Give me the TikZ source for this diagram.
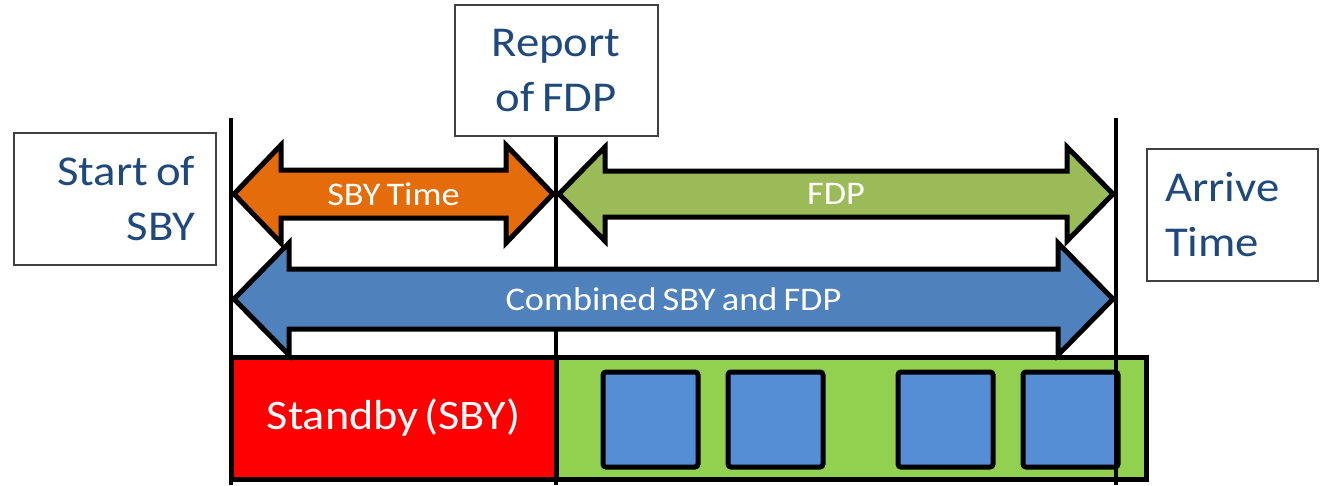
\documentclass[tikz,border=0pt]{standalone}
\usepackage{fontspec}
\setmainfont{Carlito}[FakeStretch=1.1, WordSpace={0.75,0,0}]
\definecolor{sbyorange}{RGB}{228,108,10}
\definecolor{fdpgreen}{RGB}{155,187,89}
\definecolor{combblue}{RGB}{79,129,189}
\definecolor{barred}{RGB}{255,0,0}
\definecolor{bargreen}{RGB}{146,208,80}
\definecolor{slotblue}{RGB}{85,142,213}
\definecolor{labelblue}{RGB}{31,73,125}
% double-headed block arrow: fill, x1, x2, y centre, shaft half height, head half height, head length
\newcommand\twoheaded[7]{%
  \filldraw[blockarrow, fill=#1]
    (#2,#4) -- (#2+#7,#4-#6) -- (#2+#7,#4-#5) -- (#3-#7,#4-#5) -- (#3-#7,#4-#6)
    -- (#3,#4) -- (#3-#7,#4+#6) -- (#3-#7,#4+#5) -- (#2+#7,#4+#5) -- (#2+#7,#4+#6) -- cycle;}
\begin{document}
\begin{tikzpicture}[x=1pt,y=-1pt,
  blockarrow/.style={draw=black, line width=5pt, line join=miter, miter limit=10},
  arrowtext/.style={text=white, font=\fontsize{33pt}{40pt}\selectfont, inner sep=0pt},
  labelbox/.style={draw=black!75, line width=2pt, fill=white, text=labelblue,
    font=\fontsize{42.5pt}{55pt}\selectfont, inner ysep=0pt},
  barbox/.style={draw=black, line width=5pt, inner sep=0pt},
  slot/.style={draw=black, line width=5pt, fill=slotblue, rounded corners=3pt,
    minimum width=95pt, minimum height=95pt, inner sep=0pt},
  marker/.style={draw=black, line width=4.5pt}]
\useasboundingbox (0,0) rectangle (1322,485);

% time bar: standby, then flight duty with its sectors
\node[barbox, fill=bargreen, minimum width=590pt, minimum height=122pt] (fdpbar) at (851,418) {};
\node[barbox, fill=barred, minimum width=325pt, minimum height=122pt,
  text=white, font=\fontsize{42pt}{50pt}\selectfont] (sby) at (393.5,418) {Standby\hspace{6pt}(SBY)};
\node[slot] (s1) at (650.5,419.5) {};
\node[slot] (s2) at (775.5,419.5) {};
\node[slot] (s3) at (945.5,419.5) {};
\node[slot] (s4) at (1070.5,419.5) {};

% event labels
\node[labelbox, minimum width=202pt, minimum height=132pt, inner xsep=21pt,
  text width=160pt, align=flush right] (start) at (115,199) {Start of\\SBY};
\node[labelbox, minimum width=203pt, minimum height=131pt, inner xsep=10pt,
  text width=183pt, align=flush center] (report) at (556,70.5) {Report\\of FDP};
\node[labelbox, minimum width=171pt, minimum height=132pt, inner xsep=18pt,
  text width=135pt, align=flush left] (arrive) at (1232.5,215) {Arrive\\Time};

% time markers
\coordinate (starttop) at (231,118);
\coordinate (startbot) at (231,485);
\coordinate (arrtop) at (1116,118);
\coordinate (arrbot) at (1116,485);
\draw[marker] (starttop) -- (startbot);
\draw[marker] (report.south) -- (report.south |- startbot);
\draw[marker] (arrtop) -- (arrbot);

% duration arrows
\twoheaded{sbyorange}{234}{553}{194}{24}{49}{47}
\twoheaded{fdpgreen}{559}{1113}{194}{23}{47}{46}
\twoheaded{combblue}{234}{1113}{299}{30}{56}{55}
\node[arrowtext] (sbytime) at (393.5,194) {SBY Time};
\node[arrowtext] (fdp) at (836,194) {FDP};
\node[arrowtext] (comb) at (673.5,299) {Combined SBY and FDP};
\end{tikzpicture}
\end{document}
